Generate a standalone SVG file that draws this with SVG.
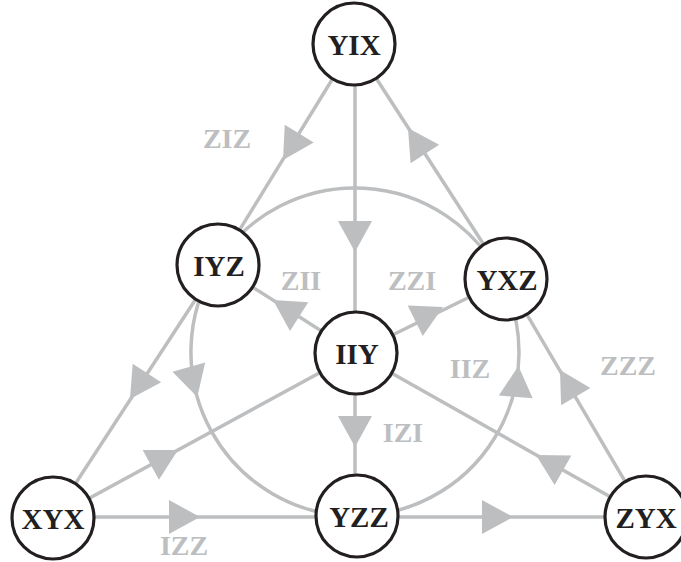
<svg xmlns="http://www.w3.org/2000/svg" xmlns:xlink="http://www.w3.org/1999/xlink" width="681" height="562" viewBox="0 0 681 562">
<style>
.edge{fill:none;stroke:#BCBEC0;stroke-width:3.5}
.ah{fill:#BCBEC0;stroke:none}
.node circle{fill:#FFFFFF;stroke:#231F20;stroke-width:3.2}
.node text{font-family:"Liberation Serif","Times New Roman",serif;font-weight:bold;font-size:29px;fill:#231F20;text-anchor:middle}
.lbl{font-family:"Liberation Serif","Times New Roman",serif;font-weight:bold;font-size:28px;fill:#BCBEC0;text-anchor:middle}
</style>
<defs>
<path id="ah" class="ah" d="M-31,-17 L0,0 L-31,17 Z"/>
</defs>
<rect width="681" height="562" fill="#FFFFFF"/>
<g id="connectors">
<line class="edge" x1="354" y1="44" x2="218" y2="265"/>
<line class="edge" x1="218" y1="265" x2="53" y2="518"/>
<line class="edge" x1="354" y1="44" x2="506" y2="279"/>
<line class="edge" x1="506" y1="279" x2="646" y2="517"/>
<line class="edge" x1="53" y1="517" x2="646" y2="517"/>
<line class="edge" x1="355" y1="44" x2="355" y2="516"/>
<line class="edge" x1="53" y1="518" x2="356" y2="353"/>
<line class="edge" x1="356" y1="353" x2="506" y2="279"/>
<line class="edge" x1="646" y1="517" x2="356" y2="353"/>
<line class="edge" x1="356" y1="353" x2="218" y2="265"/>
<path class="edge" d="M216.5,264.1 A164,164 0 0 0 357,516"/>
<path class="edge" d="M357,516 A164,164 0 0 0 502.6,280.6"/>
<path class="edge" d="M502.6,280.6 A164,164 0 0 0 216.5,264.1"/>
<use xlink:href="#ah" href="#ah" transform="translate(283,160) rotate(121.6)"/>
<use xlink:href="#ah" href="#ah" transform="translate(355,252) rotate(90)"/>
<use xlink:href="#ah" href="#ah" transform="translate(408,128) rotate(-122.9)"/>
<use xlink:href="#ah" href="#ah" transform="translate(273,300) rotate(-147.5)"/>
<use xlink:href="#ah" href="#ah" transform="translate(443,307) rotate(-26.3)"/>
<use xlink:href="#ah" href="#ah" transform="translate(130,399) rotate(123.1)"/>
<use xlink:href="#ah" href="#ah" transform="translate(355,447) rotate(90)"/>
<use xlink:href="#ah" href="#ah" transform="translate(178,450) rotate(-28.6)"/>
<use xlink:href="#ah" href="#ah" transform="translate(200,517) rotate(0)"/>
<use xlink:href="#ah" href="#ah" transform="translate(513,517) rotate(0)"/>
<use xlink:href="#ah" href="#ah" transform="translate(536,455) rotate(-150.5)"/>
<use xlink:href="#ah" href="#ah" transform="translate(560,370) rotate(-120.5)"/>
<use xlink:href="#ah" href="#ah" transform="translate(197.3,397) rotate(74.1)"/>
<use xlink:href="#ah" href="#ah" transform="translate(518.4,366) rotate(-85.1)"/>
</g>
<g id="labels">
<text class="lbl" x="227" y="148">ZIZ</text>
<text class="lbl" x="301" y="290">ZII</text>
<text class="lbl" x="412" y="290">ZZI</text>
<text class="lbl" x="470" y="378">IIZ</text>
<text class="lbl" x="628" y="375">ZZZ</text>
<text class="lbl" x="403" y="442">IZI</text>
<text class="lbl" x="184" y="555">IZZ</text>
</g>
<g id="YIX" class="node"><circle cx="354" cy="44" r="41"/><text x="354" y="54.5">YIX</text></g>
<g id="IYZ" class="node"><circle cx="218" cy="265" r="41"/><text x="219" y="275.5">IYZ</text></g>
<g id="YXZ" class="node"><circle cx="506" cy="279" r="41"/><text x="507" y="289.5">YXZ</text></g>
<g id="IIY" class="node"><circle cx="356" cy="353" r="41"/><text x="357" y="363.5">IIY</text></g>
<g id="XYX" class="node"><circle cx="53" cy="518" r="41"/><text x="53" y="528.5">XYX</text></g>
<g id="YZZ" class="node"><circle cx="357" cy="516" r="41"/><text x="359" y="526.5">YZZ</text></g>
<g id="ZYX" class="node"><circle cx="646" cy="517" r="41"/><text x="646" y="527.5">ZYX</text></g>
</svg>
